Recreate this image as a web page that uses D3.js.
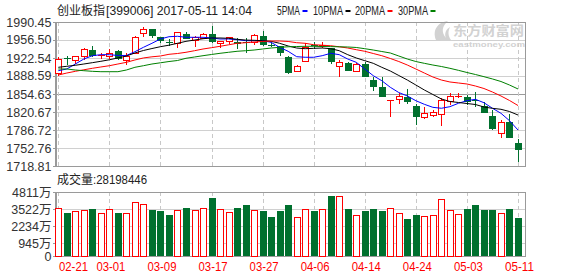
<!DOCTYPE html>
<html><head><meta charset="utf-8">
<script src="https://cdn.jsdelivr.net/npm/d3@7/dist/d3.min.js"></script>
<style>html,body{margin:0;padding:0;background:#fff;}svg{display:block;}</style>
</head><body>
<svg id="c" width="578" height="276"></svg>
<script>
const dates = ["02-21","02-22","02-23","02-24","02-27","02-28","03-01","03-02","03-03","03-06","03-07","03-08","03-09","03-10","03-13","03-14","03-15","03-16","03-17","03-20","03-21","03-22","03-23","03-24","03-27","03-28","03-29","03-30","03-31","04-05","04-06","04-07","04-10","04-11","04-12","04-13","04-14","04-17","04-18","04-19","04-20","04-21","04-24","04-25","04-26","04-27","04-28","05-02","05-03","05-04","05-05","05-08","05-09","05-10","05-11"];
const open  = [1893.7,1922.5,1919.4,1925.7,1937.6,1928.3,1926.3,1935.2,1918.8,1931.4,1969.1,1977.2,1961.6,1952.6,1950.3,1967.8,1956.5,1960.3,1967.8,1950.3,1955.2,1952.2,1952.6,1952.2,1963.5,1948.0,1944.6,1925.0,1897.5,1916.3,1946.2,1946.6,1941.4,1908.0,1912.6,1897.5,1911.2,1881.0,1868.4,1842.2,1844.6,1849.6,1832.0,1810.7,1815.0,1816.4,1842.0,1850.5,1849.6,1842.4,1832.0,1813.2,1781.7,1801.3,1761.6];
const high  = [1923.9,1926.9,1926.3,1940.5,1945.2,1932.0,1939.5,1937.6,1932.0,1963.5,1980.4,1977.8,1962.7,1958.4,1971.5,1971.0,1964.6,1969.1,1982.9,1954.5,1962.2,1960.3,1960.3,1967.3,1974.0,1952.2,1945.2,1926.3,1909.0,1950.3,1952.0,1953.5,1942.0,1918.8,1915.6,1914.0,1914.4,1886.1,1886.1,1844.0,1857.2,1863.5,1835.8,1829.6,1824.4,1846.5,1856.0,1857.2,1853.0,1859.1,1840.1,1824.4,1806.4,1817.0,1769.2];
const low   = [1889.2,1910.0,1911.0,1919.4,1923.9,1920.7,1920.7,1919.5,1910.0,1930.5,1962.7,1960.3,1950.3,1945.8,1940.8,1957.5,1943.9,1959.5,1950.3,1940.8,1949.0,1940.1,1931.4,1947.6,1945.2,1942.7,1926.9,1891.5,1897.0,1916.0,1939.5,1940.5,1911.2,1887.3,1897.5,1897.0,1886.0,1860.9,1848.5,1811.9,1835.8,1835.8,1796.2,1807.0,1812.0,1794.9,1833.9,1846.6,1833.9,1830.7,1818.5,1787.5,1771.8,1771.0,1727.0];
const close = [1920.7,1921.6,1925.7,1940.1,1925.7,1929.0,1931.4,1920.7,1925.7,1962.7,1977.8,1964.6,1955.2,1951.8,1971.0,1958.4,1961.6,1967.3,1952.2,1954.0,1961.6,1949.0,1951.8,1965.4,1947.6,1947.3,1931.4,1893.7,1908.0,1942.7,1945.4,1947.4,1914.4,1915.6,1898.6,1911.2,1887.3,1868.4,1849.6,1843.6,1850.9,1840.1,1810.7,1818.3,1820.7,1843.3,1850.9,1851.3,1840.1,1841.6,1819.4,1788.6,1802.4,1772.2,1749.0];
const volume = [3642,3240,3366,3441,3540,3240,3516,3240,3240,4040,3890,3441,3366,3090,3493,3614,3441,3642,4363,3566,3291,3614,3840,3441,3366,2940,3366,3815,2895,3516,3390,3566,4512,4489,3516,3066,3366,3516,3366,3642,3216,2767,3066,2970,3066,4316,3441,3141,3516,3815,3441,3441,3266,3516,2819.8];
const ma5  = [1898.6,1901.8,1911.2,1920.6,1926.9,1928.8,1928.8,1927.3,1927.3,1934.4,1942.7,1950.3,1958.4,1962.7,1963.5,1961.6,1961.6,1961.6,1960.3,1958.4,1958.4,1957.1,1955.2,1955.2,1955.2,1952.1,1942.7,1935.2,1925.0,1923.9,1923.9,1926.9,1931.4,1928.8,1920.6,1914.4,1901.8,1889.2,1879.7,1867.3,1857.4,1850.9,1842.0,1835.2,1829.5,1827.7,1830.7,1837.1,1842.0,1844.6,1838.2,1827.7,1818.2,1804.3,1786.7];
const ma10 = [1905.0,1906.9,1908.8,1911.2,1913.7,1916.3,1919.2,1922.6,1926.3,1932.0,1936.7,1940.4,1943.9,1946.7,1950.3,1954.0,1956.4,1958.9,1960.3,1960.3,1959.7,1957.8,1956.4,1955.9,1955.2,1954.0,1950.3,1945.2,1941.4,1940.1,1940.8,1941.4,1940.1,1936.3,1928.8,1922.6,1917.5,1912.5,1905.0,1898.0,1889.5,1881.0,1871.6,1862.2,1853.7,1845.2,1840.5,1838.6,1836.7,1834.8,1830.1,1827.6,1825.8,1821.6,1815.0];
const ma20 = [1890.4,1894.2,1897.4,1900.3,1903.1,1905.6,1908.0,1911.2,1914.4,1918.8,1922.6,1924.8,1926.3,1929.5,1931.0,1933.3,1936.3,1939.5,1942.0,1944.6,1947.4,1950.3,1951.4,1952.7,1953.7,1954.6,1954.6,1953.7,1951.4,1950.3,1947.6,1946.7,1945.7,1943.7,1941.4,1938.2,1935.2,1931.0,1926.9,1921.6,1915.9,1909.3,1901.8,1894.2,1886.7,1881.0,1877.3,1875.4,1873.5,1869.7,1865.0,1858.4,1850.9,1842.4,1832.9];
const ma30 = [1901.8,1901.8,1899.9,1898.6,1897.4,1896.7,1896.7,1896.7,1899.9,1905.0,1908.0,1911.2,1913.5,1915.9,1917.8,1922.0,1924.4,1926.9,1929.2,1931.4,1933.3,1935.2,1936.3,1937.6,1939.5,1941.4,1942.7,1943.7,1944.2,1944.6,1944.6,1944.2,1944.0,1943.7,1943.3,1942.4,1940.1,1937.6,1934.8,1932.0,1926.3,1920.6,1915.9,1912.5,1909.3,1906.5,1903.1,1899.3,1895.2,1891.4,1887.3,1883.0,1878.2,1871.6,1864.1];
const priceTicks = [1990.45,1956.50,1922.54,1888.59,1854.63,1820.67,1786.72,1752.76,1718.81];
const volTicks = [4811,3522,2234,945,0];
const xTickLabels = ["02-21","03-01","03-09","03-17","03-27","04-06","04-14","04-24","05-03","05-11"];
const maNames = ["5PMA","10PMA","20PMA","30PMA"];
const titleName = "创业板指";
const titleCode = "[399006] 2017-05-11 14:04";
const volLabel = "成交量:28198446";

const RED = "#ff0000", GREEN = "#00702e";
const maColors = ["#0000ff","#000000","#ff0000","#008000"];
const svg = d3.select("#c");
const L = 55.5, R = 525.5, PT = 22, PB = 166, VT = 192, VB = 256;

const x = d3.scaleLinear().domain([0, dates.length - 1]).range([58.3, 518]);
const yP = d3.scaleLinear().domain([1718.81, 1990.45]).range([PB, PT]);
const yV = d3.scaleLinear().domain([0, 4811]).range([VB, VT]);

const font = "'Liberation Sans', Arial, sans-serif";

// grid: horizontal price
const g = svg.append("g").attr("shape-rendering","crispEdges");
priceTicks.slice(1, -1).forEach(t => {
  g.append("line").attr("x1", L).attr("x2", R).attr("y1", Math.round(yP(t)) + 0.5).attr("y2", Math.round(yP(t)) + 0.5)
    .attr("stroke", t === 1854.63 ? "#9a9a9a" : "#d0d0d0").attr("stroke-width", 1);
});
volTicks.slice(1, -1).forEach(t => {
  g.append("line").attr("x1", L).attr("x2", R).attr("y1", Math.round(yV(t)) + 0.5).attr("y2", Math.round(yV(t)) + 0.5)
    .attr("stroke", "#d0d0d0");
});
// vertical dashed grid
const tickIdx = xTickLabels.map(d => dates.indexOf(d));
tickIdx.forEach(i => {
  const xx = Math.round(x(i)) + 0.5;
  g.append("line").attr("x1", xx).attr("x2", xx).attr("y1", PT).attr("y2", PB).attr("stroke", "#c8c8c8").attr("stroke-dasharray", "4,3");
  g.append("line").attr("x1", xx).attr("x2", xx).attr("y1", VT).attr("y2", VB).attr("stroke", "#c8c8c8").attr("stroke-dasharray", "4,3");
});

// watermark
const wm = svg.append("g").attr("fill", "#d2d2d2");
wm.append("path").attr("d", "M436,40 C432,30 438,22 448,21 C442,26 441,32 446,38 C444,34 446,29 450,27 C447,33 449,38 452,41 Z");
wm.append("text").attr("x", 453).attr("y", 35).attr("font-family", "'Noto Sans CJK SC', sans-serif").attr("font-weight", "bold")
  .attr("font-size", 13).attr("textLength", 71).attr("lengthAdjust", "spacingAndGlyphs").text("东方财富网");
wm.append("text").attr("x", 453).attr("y", 46.5).attr("font-family", font).attr("font-weight", "bold")
  .attr("font-size", 8).attr("textLength", 72).attr("lengthAdjust", "spacingAndGlyphs").text("eastmoney.com");

// frames
[[PT, PB], [VT, VB]].forEach(([t, b]) => {
  svg.append("rect").attr("x", L).attr("y", t + 0.5).attr("width", R - L).attr("height", b - t)
    .attr("fill", "none").attr("stroke", "#9a9a9a").attr("shape-rendering", "crispEdges");
});

// axes
const axP = svg.append("g").attr("transform", `translate(${L},0)`)
  .call(d3.axisLeft(yP).tickValues(priceTicks).tickSize(3).tickPadding(1).tickFormat(d => d.toFixed(2)));
const axV = svg.append("g").attr("transform", `translate(${L},0)`)
  .call(d3.axisLeft(yV).tickValues(volTicks).tickSize(3).tickPadding(1).tickFormat(d => d === 0 ? "0" : d + "万"));
[axP, axV].forEach(a => {
  a.select(".domain").attr("stroke", "#9a9a9a").attr("shape-rendering", "crispEdges");
  a.selectAll(".tick line").attr("stroke", "#9a9a9a").attr("shape-rendering", "crispEdges");
  a.selectAll("text").attr("font-family", "'Liberation Sans', 'Noto Sans CJK SC', sans-serif").attr("font-size", 12.5).attr("fill", "#333");
});

// x labels
const xl = svg.append("g");
tickIdx.forEach((i, k) => {
  let cx = x(i) + 1.5;
  if (cx - 14.5 < 59) cx = 59 + 14.5;
  xl.append("text").attr("x", cx).attr("y", 271).attr("text-anchor", "middle").attr("fill", "#ff0000")
    .attr("font-family", font).attr("font-size", 12).attr("textLength", 29).attr("lengthAdjust", "spacingAndGlyphs").text(xTickLabels[k]);
});

// candles
const cg = svg.append("g").attr("shape-rendering", "crispEdges");
dates.forEach((d, i) => {
  const cx = Math.round(x(i));
  const up = close[i] >= open[i];
  const col = up ? RED : GREEN;
  const yo = yP(open[i]), yc = yP(close[i]);
  const top = Math.round(Math.min(yo, yc)), bot = Math.round(Math.max(yo, yc));
  const yh = Math.round(yP(high[i])), ylw = Math.round(yP(low[i]));
  if (bot - top < 1.5) {
    cg.append("line").attr("x1", cx + 0.5).attr("x2", cx + 0.5).attr("y1", yh).attr("y2", ylw).attr("stroke", col);
    cg.append("rect").attr("x", cx - 3).attr("y", top).attr("width", 7).attr("height", Math.max(1, bot - top)).attr("fill", col);
  } else if (up) {
    cg.append("line").attr("x1", cx + 0.5).attr("x2", cx + 0.5).attr("y1", yh).attr("y2", top).attr("stroke", col);
    cg.append("line").attr("x1", cx + 0.5).attr("x2", cx + 0.5).attr("y1", bot).attr("y2", ylw).attr("stroke", col);
    cg.append("rect").attr("x", cx - 2.5).attr("y", top + 0.5).attr("width", 6).attr("height", bot - top)
      .attr("fill", "#fff").attr("stroke", col).attr("stroke-width", 1);
  } else {
    cg.append("line").attr("x1", cx + 0.5).attr("x2", cx + 0.5).attr("y1", yh).attr("y2", ylw).attr("stroke", col);
    cg.append("rect").attr("x", cx - 3).attr("y", top).attr("width", 7).attr("height", bot - top).attr("fill", col);
  }
});

// MA lines
[ma5, ma10, ma20, ma30].forEach((arr, k) => {
  svg.append("path").datum(arr).attr("fill", "none").attr("stroke", maColors[k]).attr("stroke-width", 1)
    .attr("d", d3.line().x((v, i) => x(i)).y(v => yP(v)));
});

// volume bars
const vg = svg.append("g").attr("shape-rendering", "crispEdges");
volume.forEach((v, i) => {
  const cx = Math.round(x(i));
  const up = close[i] >= open[i];
  const yt = Math.round(yV(v));
  if (up) {
    vg.append("rect").attr("x", cx - 2.5).attr("y", yt + 0.5).attr("width", 6).attr("height", VB - yt)
      .attr("fill", "#fff").attr("stroke", RED).attr("stroke-width", 1.3);
  } else {
    vg.append("rect").attr("x", cx - 3).attr("y", yt).attr("width", 7).attr("height", VB - yt).attr("fill", GREEN);
  }
});

// title + legend
const tf = "'Noto Sans CJK SC', sans-serif";
svg.append("text").attr("x", 57).attr("y", 15).attr("font-family", tf).attr("font-size", 12).attr("fill", "#222")
  .attr("textLength", 48).attr("lengthAdjust", "spacingAndGlyphs").text(titleName);
svg.append("text").attr("x", 106).attr("y", 15).attr("font-family", font).attr("font-size", 12).attr("fill", "#222")
  .attr("textLength", 146).attr("lengthAdjust", "spacingAndGlyphs").text(titleCode);
const legX = [277, 313, 355, 398];
const legW = [23, 30, 30, 30];
maNames.forEach((n, k) => {
  svg.append("text").attr("x", legX[k]).attr("y", 15).attr("font-family", font).attr("font-size", 12).attr("fill", "#222")
    .attr("textLength", legW[k]).attr("lengthAdjust", "spacingAndGlyphs").text(n);
  svg.append("rect").attr("x", legX[k] + legW[k] + 2.5).attr("y", 10).attr("width", 5).attr("height", 2).attr("fill", maColors[k]);
});
svg.append("text").attr("x", 57).attr("y", 184).attr("font-family", tf).attr("font-size", 12).attr("fill", "#222")
  .attr("textLength", 36).attr("lengthAdjust", "spacingAndGlyphs").text(volLabel.slice(0, 3));
svg.append("text").attr("x", 93).attr("y", 184).attr("font-family", font).attr("font-size", 12).attr("fill", "#222")
  .attr("textLength", 54).attr("lengthAdjust", "spacingAndGlyphs").text(volLabel.slice(3));
</script>
</body></html>
